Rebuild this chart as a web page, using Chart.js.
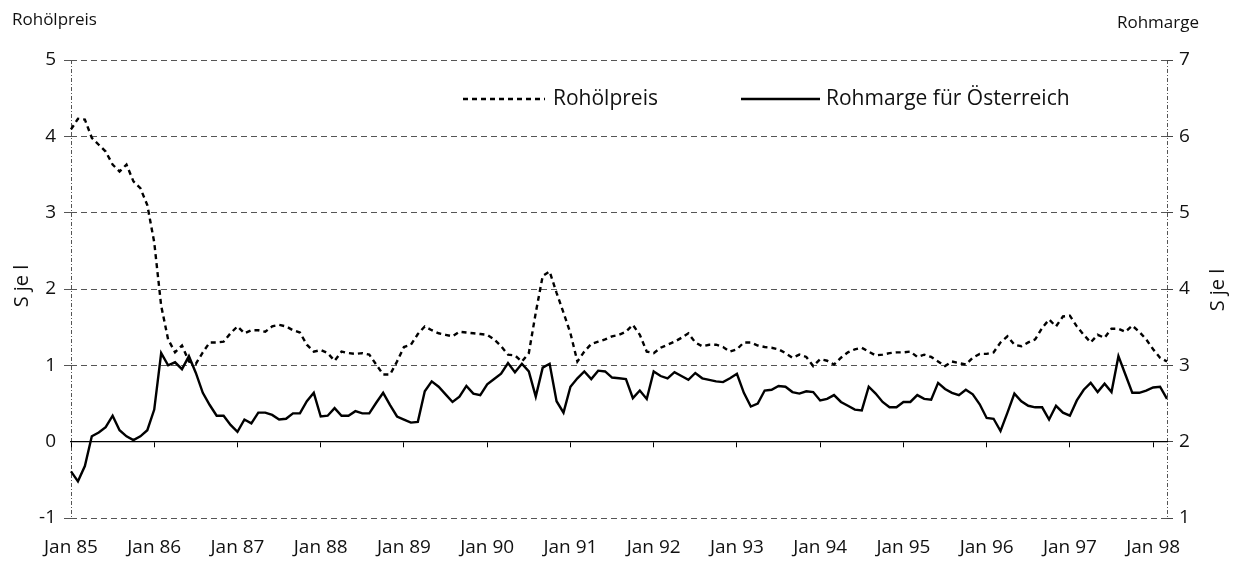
<!DOCTYPE html>
<html><head><meta charset="utf-8">
<script src="https://cdn.jsdelivr.net/npm/chart.js@4.4.1/dist/chart.umd.min.js"></script>
<style>html,body{margin:0;padding:0;background:#fff;}#wrap{width:1237px;height:565px;position:relative;}</style>
</head><body><div id="wrap"><canvas id="c" width="1237" height="565"></canvas></div>
<script>
// ---- data (monthly, Jan 85 – Mar 98) ----
const years = ['85','86','87','88','89','90','91','92','93','94','95','96','97','98'];
const monthNames = ['Jan','Feb','Mär','Apr','Mai','Jun','Jul','Aug','Sep','Okt','Nov','Dez'];
const lastMonthCount = 3; // Jan–Mar 98

// Rohölpreis, S je l (left axis)
const rohoelpreis = [
 4.09,4.23,4.22,3.98,3.89,3.80,3.63,3.54,3.63,3.41,3.32,3.10,
 2.61,1.78,1.34,1.17,1.26,1.05,1.02,1.17,1.30,1.30,1.31,1.42,
 1.51,1.42,1.46,1.46,1.44,1.51,1.53,1.51,1.46,1.43,1.27,1.18,
 1.20,1.16,1.06,1.18,1.16,1.15,1.16,1.14,1.01,0.88,0.88,1.05,
 1.24,1.27,1.41,1.51,1.46,1.42,1.40,1.38,1.44,1.43,1.42,1.41,
 1.40,1.34,1.25,1.14,1.13,1.05,1.16,1.69,2.17,2.23,1.95,1.69,
 1.42,1.05,1.18,1.28,1.31,1.34,1.38,1.40,1.44,1.53,1.40,1.18,
 1.16,1.23,1.27,1.31,1.36,1.42,1.30,1.25,1.27,1.27,1.24,1.18,
 1.21,1.30,1.30,1.26,1.24,1.23,1.21,1.16,1.10,1.14,1.11,0.99,
 1.08,1.06,1.01,1.10,1.17,1.21,1.23,1.18,1.13,1.14,1.16,1.17,
 1.17,1.18,1.11,1.14,1.11,1.05,0.99,1.05,1.03,1.01,1.10,1.15,
 1.15,1.17,1.30,1.38,1.27,1.25,1.30,1.34,1.49,1.60,1.51,1.64,
 1.65,1.51,1.40,1.30,1.40,1.36,1.48,1.48,1.44,1.52,1.44,1.34,
 1.21,1.10,1.05
];

// Rohmarge für Österreich, S je l (right axis)
const rohmarge = [
 1.61,1.48,1.68,2.07,2.12,2.19,2.34,2.15,2.07,2.02,2.07,2.15,
 2.42,3.16,3.00,3.04,2.95,3.12,2.90,2.64,2.48,2.34,2.34,2.22,
 2.13,2.29,2.24,2.38,2.38,2.35,2.29,2.30,2.37,2.37,2.53,2.64,
 2.33,2.34,2.44,2.34,2.34,2.40,2.37,2.37,2.51,2.64,2.48,2.33,
 2.29,2.25,2.26,2.66,2.79,2.72,2.62,2.52,2.59,2.73,2.63,2.61,
 2.75,2.82,2.89,3.03,2.91,3.02,2.92,2.59,2.97,3.02,2.53,2.38,
 2.72,2.83,2.92,2.82,2.93,2.92,2.84,2.83,2.82,2.57,2.67,2.56,
 2.92,2.86,2.83,2.91,2.86,2.81,2.90,2.83,2.81,2.79,2.78,2.83,
 2.89,2.64,2.46,2.50,2.67,2.68,2.73,2.72,2.65,2.63,2.66,2.65,
 2.54,2.56,2.61,2.52,2.47,2.42,2.41,2.72,2.63,2.52,2.45,2.45,
 2.52,2.52,2.61,2.56,2.55,2.77,2.69,2.64,2.61,2.68,2.62,2.49,
 2.31,2.30,2.14,2.38,2.63,2.53,2.47,2.45,2.45,2.29,2.47,2.38,
 2.34,2.54,2.68,2.77,2.65,2.76,2.65,3.12,2.88,2.64,2.64,2.67,
 2.71,2.72,2.56
];

const leftTicks = [-1,0,1,2,3,4,5];
const rightTicks = [1,2,3,4,5,6,7];

// month labels
const categories = [];
years.forEach((y, yi) => {
  const n = (yi === years.length - 1) ? lastMonthCount : 12;
  for (let m = 0; m < n; m++) categories.push(monthNames[m] + ' ' + y);
});

const FONT = "'Open Sans', 'Liberation Sans', sans-serif";
const TXT = '#111';

const textPlugin = {
  id: 'texts',
  afterDraw(chart) {
    const ctx = chart.ctx;
    ctx.save();
    ctx.fillStyle = TXT;
    ctx.font = '17px ' + FONT;
    ctx.textBaseline = 'middle';
    ctx.textAlign = 'left';
    ctx.fillText('Rohölpreis', 12, 20);
    ctx.textAlign = 'right';
    ctx.fillText('Rohmarge', 1199, 23);
    // vertical unit labels
    ctx.font = '20px ' + FONT;
    ctx.textAlign = 'center';
    ctx.save(); ctx.translate(22, 286); ctx.rotate(-Math.PI/2); ctx.fillText('S je l', 0, 0); ctx.restore();
    ctx.save(); ctx.translate(1218, 290); ctx.rotate(-Math.PI/2); ctx.fillText('S je l', 0, 0); ctx.restore();
    // legend
    const items = [
      {ds: chart.data.datasets[0], x1: 463, x2: 545, tx: 553},
      {ds: chart.data.datasets[1], x1: 741, x2: 820, tx: 826}
    ];
    const ly = 99;
    items.forEach(it => {
      ctx.save();
      ctx.strokeStyle = it.ds.borderColor;
      ctx.lineWidth = it.ds.borderWidth;
      ctx.setLineDash(it.ds.borderDash || []);
      ctx.beginPath(); ctx.moveTo(it.x1, ly); ctx.lineTo(it.x2, ly); ctx.stroke();
      ctx.restore();
      ctx.font = '21px ' + FONT;
      ctx.textAlign = 'left';
      ctx.textBaseline = 'middle';
      ctx.fillStyle = TXT;
      ctx.fillText(it.ds.label, it.tx, ly);
    });
    ctx.restore();
  }
};

new Chart(document.getElementById('c'), {
  type: 'line',
  data: {
    labels: categories,
    datasets: [
      {label: 'Rohölpreis', data: rohoelpreis, yAxisID: 'y', xAxisID: 'x',
       borderColor: '#000', borderWidth: 2.4, borderDash: [5,4], pointRadius: 0, tension: 0, fill: false},
      {label: 'Rohmarge für Österreich', data: rohmarge, yAxisID: 'y2', xAxisID: 'x',
       borderColor: '#000', borderWidth: 2.4, pointRadius: 0, tension: 0, fill: false}
    ]
  },
  options: {
    responsive: false,
    animation: false,
    devicePixelRatio: 1,
    layout: {padding: {left: 0, right: 0, top: 60, bottom: 0}},
    plugins: {legend: {display: false}, tooltip: {enabled: false}},
    scales: {
      x: {
        type: 'category', position: 'bottom',
        afterFit(s) { s.height = 47; },
        grid: {
          display: true, drawOnChartArea: true, drawTicks: false,
          color: (c) => (c.index === 0 || c.index === categories.length - 1) ? '#555' : 'rgba(0,0,0,0)',
          lineWidth: 1
        },
        border: {display: false, dash: [4,2,1,2]},
        ticks: {
          autoSkip: false, maxRotation: 0, padding: 18, color: TXT,
          font: {family: FONT, size: 19},
          callback(v, i) { return i % 12 === 0 ? this.getLabelForValue(v) : ''; }
        }
      },
      xz: {
        type: 'category', axis: 'x', position: {y: 0},
        grid: {
          display: true, drawOnChartArea: false, drawTicks: true, tickLength: 5,
          color: (c) => (c.index % 12 === 0) ? '#000' : 'rgba(0,0,0,0)'
        },
        border: {display: true, color: '#000', width: 1.3},
        ticks: {display: false}
      },
      y: {
        type: 'linear', position: 'left', min: -1, max: 5,
        afterFit(s) { s.width = 71; },
        afterBuildTicks(s) { s.ticks = leftTicks.map(v => ({value: v})); },
        grid: {
          color: (c) => c.tick && c.tick.value === 0 ? 'rgba(0,0,0,0)' : '#555',
          lineWidth: 1, tickLength: 7, drawTicks: true
        },
        border: {display: false, dash: [6,4]},
        ticks: {padding: 8, color: TXT, font: {family: FONT, size: 19}}
      },
      y2: {
        type: 'linear', position: 'right', min: 1, max: 7,
        afterFit(s) { s.width = 70; },
        afterBuildTicks(s) { s.ticks = rightTicks.map(v => ({value: v})); },
        grid: {drawOnChartArea: false, drawTicks: true, tickLength: 6, color: '#444'},
        border: {display: false},
        ticks: {padding: 6, color: TXT, font: {family: FONT, size: 19}}
      }
    }
  },
  plugins: [textPlugin]
});
</script></body></html>
